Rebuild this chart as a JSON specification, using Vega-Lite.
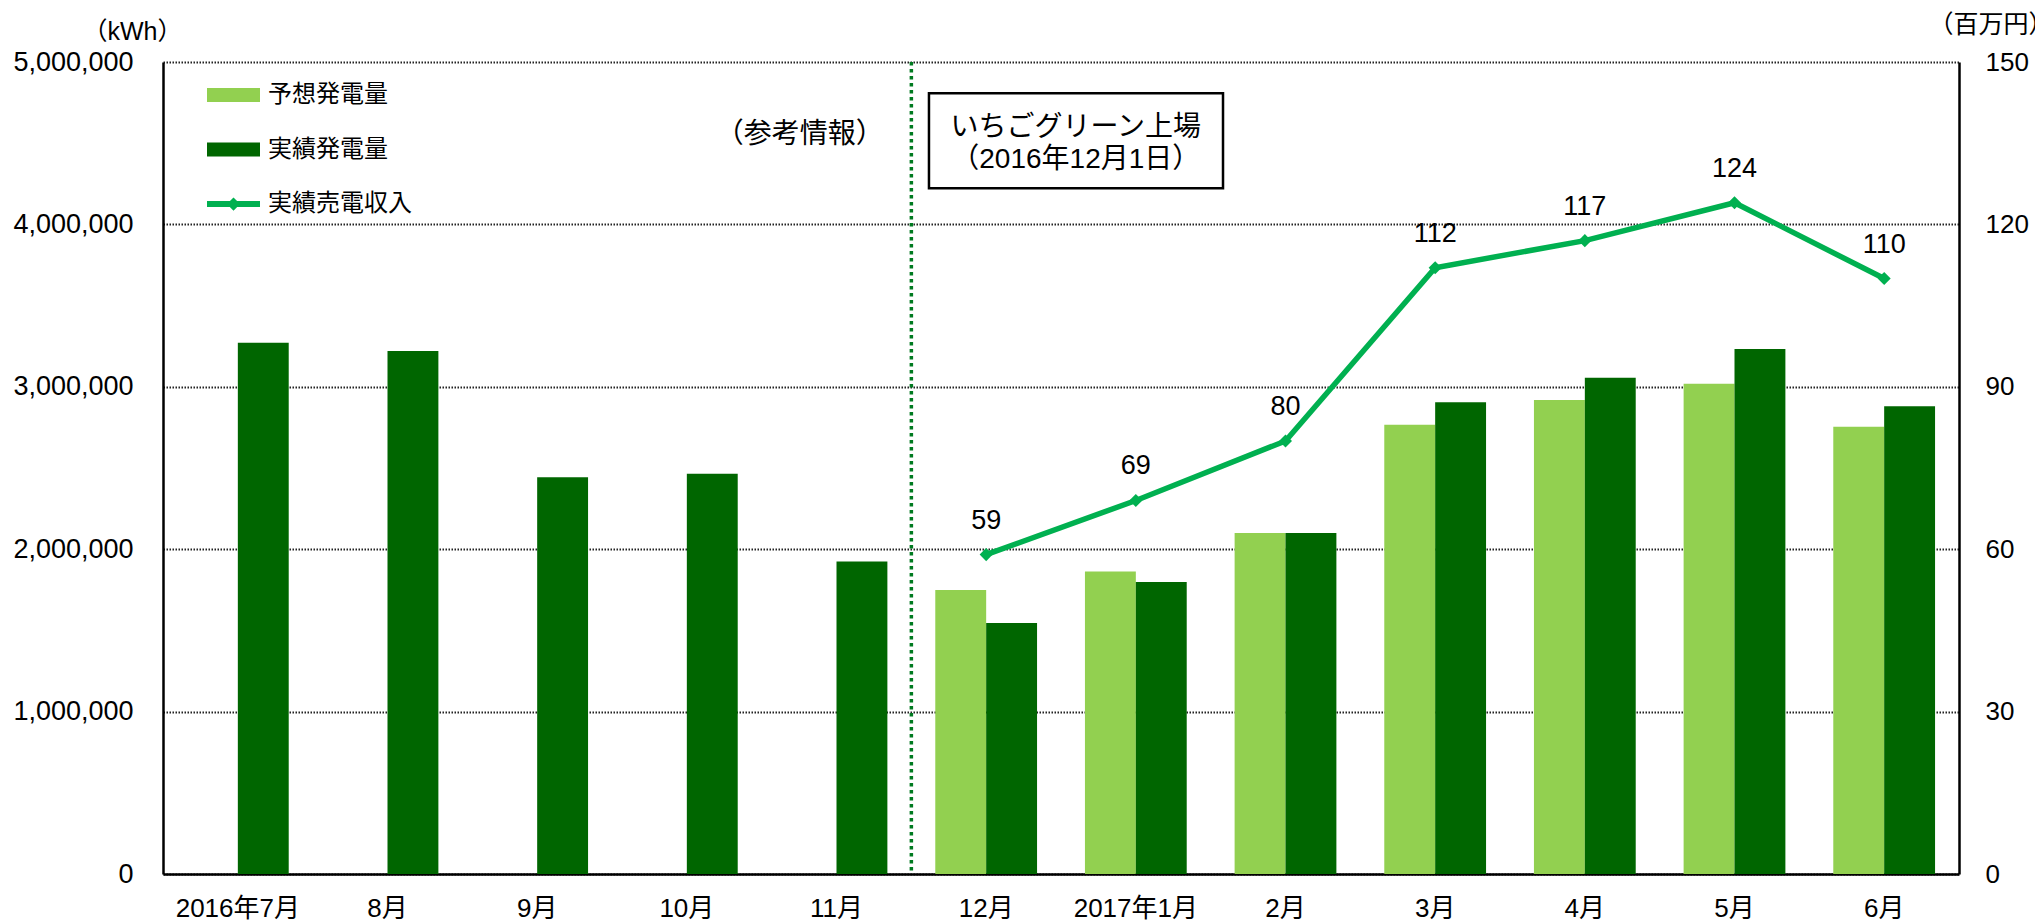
{
  "$schema": "https://vega.github.io/schema/vega-lite/v6.json",
  "width": 1796,
  "height": 812,
  "autosize": {"type": "none"},
  "padding": {"left": 163, "top": 62, "right": 76, "bottom": 49},
  "background": "white",
  "config": {
    "view": {"stroke": null},
    "font": "'Liberation Sans', 'Noto Sans CJK JP'",
    "axis": {
      "labelFont": "'Liberation Sans', 'Noto Sans CJK JP'",
      "titleFont": "'Liberation Sans', 'Noto Sans CJK JP'",
      "labelColor": "#000",
      "titleColor": "#000",
      "domainColor": "#000",
      "domainWidth": 2.5,
      "ticks": false,
      "titleFontWeight": "normal"
    },
    "text": {"font": "'Liberation Sans', 'Noto Sans CJK JP'", "color": "#000"}
  },
  "datasets": {
    "gen": [
      {"month": "2016年7月", "series": "実績発電量", "kwh": 3272000},
      {"month": "8月", "series": "実績発電量", "kwh": 3220000},
      {"month": "9月", "series": "実績発電量", "kwh": 2443000},
      {"month": "10月", "series": "実績発電量", "kwh": 2465000},
      {"month": "11月", "series": "実績発電量", "kwh": 1925000},
      {"month": "12月", "series": "予想発電量", "kwh": 1749000},
      {"month": "12月", "series": "実績発電量", "kwh": 1546000},
      {"month": "2017年1月", "series": "予想発電量", "kwh": 1862000},
      {"month": "2017年1月", "series": "実績発電量", "kwh": 1798000},
      {"month": "2月", "series": "予想発電量", "kwh": 2100000},
      {"month": "2月", "series": "実績発電量", "kwh": 2100000},
      {"month": "3月", "series": "予想発電量", "kwh": 2767000},
      {"month": "3月", "series": "実績発電量", "kwh": 2905000},
      {"month": "4月", "series": "予想発電量", "kwh": 2919000},
      {"month": "4月", "series": "実績発電量", "kwh": 3056000},
      {"month": "5月", "series": "予想発電量", "kwh": 3019000},
      {"month": "5月", "series": "実績発電量", "kwh": 3233000},
      {"month": "6月", "series": "予想発電量", "kwh": 2754000},
      {"month": "6月", "series": "実績発電量", "kwh": 2880000}
    ],
    "rev": [
      {"month": "12月", "rev": 59},
      {"month": "2017年1月", "rev": 69},
      {"month": "2月", "rev": 80},
      {"month": "3月", "rev": 112},
      {"month": "4月", "rev": 117},
      {"month": "5月", "rev": 124},
      {"month": "6月", "rev": 110}
    ]
  },
  "layer": [
    {
      "layer": [
        {
          "data": {"name": "gen"},
          "mark": {"type": "bar"},
          "encoding": {
            "x": {
              "field": "month",
              "type": "nominal",
              "title": null,
              "scale": {
                "domain": ["2016年7月", "8月", "9月", "10月", "11月", "12月", "2017年1月", "2月", "3月", "4月", "5月", "6月"],
                "paddingInner": 0.32,
                "paddingOuter": 0.16
              },
              "axis": {
                "labelAngle": 0,
                "labelFontSize": 26,
                "labelPadding": 21,
                "grid": false,
                "title": null
              }
            },
            "xOffset": {
              "field": "series",
              "type": "nominal",
              "scale": {"domain": ["予想発電量", "実績発電量"]}
            },
            "y": {
              "field": "kwh",
              "type": "quantitative",
              "scale": {"domain": [0, 5000000], "nice": false},
              "axis": {
                "orient": "left",
                "values": [0, 1000000, 2000000, 3000000, 4000000, 5000000],
                "format": ",d",
                "labelFontSize": 27,
                "labelPadding": 30,
                "grid": true,
                "gridColor": "#222",
                "gridDash": [1.5, 1.5],
                "gridWidth": 2,
                "title": "（kWh）",
                "titleAngle": 0,
                "titleX": -31,
                "titleY": -31,
                "titleAlign": "center",
                "titleBaseline": "middle",
                "titleFontSize": 25
              }
            },
            "color": {
              "field": "series",
              "type": "nominal",
              "scale": {
                "domain": ["予想発電量", "実績発電量", "実績売電収入"],
                "range": ["#92D050", "#006600", "#00B050"]
              },
              "legend": {
                "orient": "none",
                "legendX": 44,
                "legendY": 6.5,
                "title": null,
                "padding": 0,
                "symbolSize": 2809,
                "labelFontSize": 24,
                "labelOffset": 8,
                "rowPadding": 15.5,
                "labelColor": "#000",
                "labelFont": "'Liberation Sans', 'Noto Sans CJK JP'",
                "encode": {
                  "symbols": {
                    "update": {
                      "shape": {"signal": "datum.value === '実績売電収入' ? 'M-1,-0.11H1V0.11H-1Z M0,-0.25L0.25,0L0,0.25L-0.25,0Z' : 'M-1,-0.265H1V0.265H-1Z'"},
                      "fill": {"signal": "datum.value === '予想発電量' ? '#92D050' : (datum.value === '実績発電量' ? '#006600' : '#00B050')"},
                      "strokeWidth": {"value": 0},
                      "opacity": {"value": 1},
                      "fillOpacity": {"value": 1}
                    }
                  }
                }
              }
            }
          }
        },
        {
          "data": {"values": [{"month": "12月"}]},
          "mark": {"type": "rule", "color": "#007A20", "strokeWidth": 3.5, "strokeDash": [3.5, 3.5]},
          "encoding": {
            "x": {"field": "month", "type": "nominal", "bandPosition": -0.235, "title": null}
          }
        },
        {
          "data": {"values": [{}]},
          "mark": {"type": "rect", "fill": "white", "stroke": "#000", "strokeWidth": 2.5},
          "encoding": {
            "x": {"datum": "12月", "type": "nominal", "bandPosition": -0.062, "title": null},
            "x2": {"datum": "2月", "bandPosition": -0.114},
            "y": {"datum": 4807000, "type": "quantitative"},
            "y2": {"datum": 4222000}
          }
        },
        {
          "data": {"values": [{}]},
          "mark": {"type": "text", "text": "いちごグリーン上場", "fontSize": 28, "align": "center", "baseline": "middle"},
          "encoding": {
            "x": {"datum": "2017年1月", "type": "nominal", "bandPosition": -0.09, "title": null},
            "y": {"datum": 4594000, "type": "quantitative"}
          }
        },
        {
          "data": {"values": [{}]},
          "mark": {"type": "text", "text": "（2016年12月1日）", "fontSize": 28, "align": "center", "baseline": "middle"},
          "encoding": {
            "x": {"datum": "2017年1月", "type": "nominal", "bandPosition": -0.09, "title": null},
            "y": {"datum": 4397000, "type": "quantitative"}
          }
        },
        {
          "data": {"values": [{}]},
          "mark": {"type": "text", "text": "（参考情報）", "fontSize": 28, "align": "center", "baseline": "middle"},
          "encoding": {
            "x": {"datum": "11月", "type": "nominal", "bandPosition": 0.14, "title": null},
            "y": {"datum": 4550000, "type": "quantitative"}
          }
        }
      ]
    },
    {
      "data": {"name": "rev"},
      "layer": [
        {
          "mark": {
            "type": "line",
            "color": "#00B050",
            "strokeWidth": 5.5,
            "point": {"filled": true, "shape": "diamond", "size": 170, "color": "#00B050"}
          },
          "encoding": {
            "x": {"field": "month", "type": "nominal", "title": null},
            "y": {
              "field": "rev",
              "type": "quantitative",
              "scale": {"domain": [0, 150], "nice": false},
              "axis": {
                "orient": "right",
                "values": [0, 30, 60, 90, 120, 150],
                "labelFontSize": 26,
                "labelPadding": 26,
                "grid": false,
                "title": "（百万円）",
                "titleAngle": 0,
                "titleX": -31,
                "titleY": -38,
                "titleAlign": "left",
                "titleBaseline": "middle",
                "titleFontSize": 25
              }
            }
          }
        },
        {
          "mark": {"type": "text", "dy": -34, "fontSize": 27, "align": "center", "baseline": "middle"},
          "encoding": {
            "x": {"field": "month", "type": "nominal", "title": null},
            "y": {"field": "rev", "type": "quantitative"},
            "text": {"field": "rev", "type": "quantitative"}
          }
        }
      ]
    }
  ],
  "resolve": {"scale": {"y": "independent"}}
}
